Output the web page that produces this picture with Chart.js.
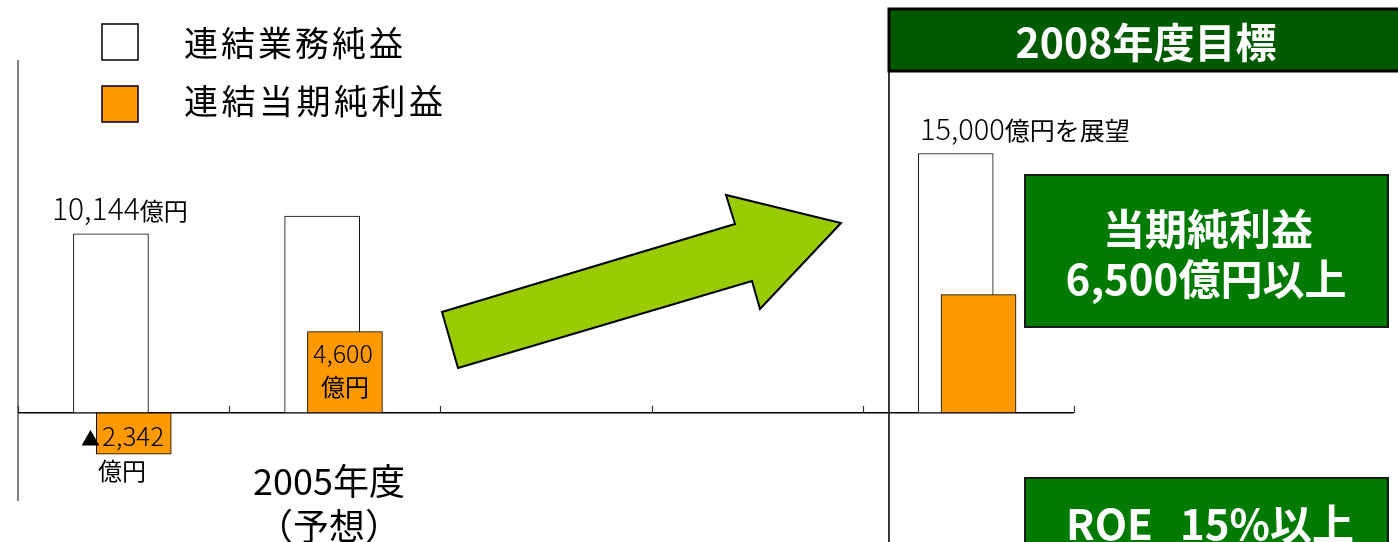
<!DOCTYPE html>
<html lang="ja">
<head>
<meta charset="utf-8">
<script src="https://cdn.jsdelivr.net/npm/chart.js@4"></script>
<style>
  html, body { margin: 0; padding: 0; background: #fff; }
  #wrap { position: relative; width: 1398px; height: 542px; overflow: hidden; }
  canvas { display: block; }
</style>
</head>
<body>
<div id="wrap"><canvas id="c" width="1398" height="542"></canvas></div>
<script>
// ---- data ----
const categories = ['2004年度', '2005年度（予想）', '2006年度', '2007年度', '2008年度目標'];
const seriesNames = ['連結業務純益', '連結当期純利益'];
const businessProfit = [10144, 11150, null, null, 14700];   // 連結業務純益 (億円)
const netIncome = [-2342, 4600, null, null, 6700];           // 連結当期純利益 (億円)
const valueLabels = ['10,144', '4,600', '▲', '2,342', '15,000'];
const unitLabels = ['億円', '億円を展望'];
const yTicks = [-5000, 0, 5000, 10000, 15000, 20000];
const targetTexts = ['2008年度目標', '当期純利益', '6,500億円以上', 'ROE', '15%以上'];
const periodLabel = ['2005年度', '（予想）'];

const CJK = '"Noto Sans CJK JP", "Noto Sans", sans-serif';
const NUM = '"Noto Sans CJK JP", "Noto Sans", sans-serif';

function toPoints(arr, shift) {
  const out = [];
  arr.forEach((v, i) => { if (v !== null) out.push({ x: i + shift, y: v }); });
  return out;
}

function txt(ctx, s, x, y, size, opts = {}) {
  ctx.save();
  ctx.font = (opts.weight || 'normal') + ' ' + size + 'px ' + (opts.family || CJK);
  ctx.fillStyle = opts.color || '#000';
  ctx.textBaseline = 'alphabetic';
  ctx.textAlign = opts.align || 'left';
  if (opts.spacing) ctx.letterSpacing = opts.spacing;
  ctx.fillText(s, x, y);
  const w = ctx.measureText(s).width;
  ctx.restore();
  return w;
}

const decor = {
  id: 'decor',
  beforeDatasetsDraw(chart) {
    const { ctx, scales: { x, y } } = chart;
    const y0 = y.getPixelForValue(0);
    ctx.save();
    // y axis
    ctx.strokeStyle = '#808080';
    ctx.lineWidth = 2;
    ctx.beginPath();
    ctx.moveTo(x.getPixelForValue(0), y.getPixelForValue(yTicks[yTicks.length - 1]));
    ctx.lineTo(x.getPixelForValue(0), y.getPixelForValue(yTicks[0]));
    ctx.stroke();
    // x axis
    ctx.strokeStyle = '#000';
    ctx.lineWidth = 1.5;
    ctx.beginPath();
    ctx.moveTo(x.getPixelForValue(0), y0);
    ctx.lineTo(x.getPixelForValue(categories.length), y0);
    ctx.stroke();
    ctx.strokeStyle = '#333';
    ctx.lineWidth = 1.2;
    for (let i = 0; i <= categories.length; i++) {
      const px = Math.round(x.getPixelForValue(i)) + 0.5;
      ctx.beginPath();
      ctx.moveTo(px, y0);
      ctx.lineTo(px, y0 - 7);
      ctx.stroke();
    }
    ctx.restore();
  },
  afterDraw(chart) {
    const { ctx } = chart;
    ctx.save();
    // legend
    ctx.lineWidth = 1.5;
    ctx.strokeStyle = '#000';
    ctx.fillStyle = '#fff';
    ctx.fillRect(102, 24, 36, 36); ctx.strokeRect(102, 24, 36, 36);
    ctx.fillStyle = '#FF9900';
    ctx.fillRect(102, 86, 36, 36); ctx.strokeRect(102, 86, 36, 36);
    txt(ctx, seriesNames[0], 184, 56, 34, { spacing: '3px' });
    txt(ctx, seriesNames[1], 184, 114, 34, { spacing: '3.5px' });

    // value labels
    let w = txt(ctx, valueLabels[0], 52, 220, 30, { family: NUM, weight: '300' });
    txt(ctx, unitLabels[0], 52 + w, 220, 24);
    txt(ctx, valueLabels[1], 313, 363, 25, { family: NUM, weight: '300' });
    txt(ctx, unitLabels[0], 345, 396, 24, { align: 'center' });
    txt(ctx, valueLabels[2], 81, 446, 19);
    txt(ctx, valueLabels[3], 102, 446, 26, { family: NUM, weight: '300' });
    txt(ctx, unitLabels[0], 98, 480, 24);
    w = txt(ctx, valueLabels[4], 920, 140, 29, { family: NUM, weight: '300' });
    txt(ctx, unitLabels[1], 920 + w, 140, 25);

    // period label
    txt(ctx, periodLabel[0], 329, 495, 36, { align: 'center' });
    txt(ctx, periodLabel[1], 329, 540, 36, { align: 'center' });

    // arrow
    ctx.beginPath();
    const pts = [[458, 368], [442, 312], [735, 224], [726, 195], [841, 223], [760, 309], [752, 281]];
    pts.forEach((p, i) => i ? ctx.lineTo(p[0], p[1]) : ctx.moveTo(p[0], p[1]));
    ctx.closePath();
    ctx.fillStyle = '#99CC00';
    ctx.fill();
    ctx.lineWidth = 2;
    ctx.strokeStyle = '#000';
    ctx.stroke();

    // right panel vertical line
    ctx.strokeStyle = '#222';
    ctx.lineWidth = 1.8;
    ctx.beginPath();
    ctx.moveTo(889, 8); ctx.lineTo(889, 542);
    ctx.stroke();

    // header
    ctx.fillStyle = '#005A00';
    ctx.fillRect(889, 9, 520, 62);
    ctx.lineWidth = 3;
    ctx.strokeStyle = '#000';
    ctx.strokeRect(889, 9, 520, 62);
    txt(ctx, targetTexts[0], 1146, 58, 41, { align: 'center', color: '#fff', weight: 'bold' });

    // target boxes
    ctx.fillStyle = '#007A00';
    ctx.lineWidth = 2;
    ctx.strokeStyle = '#1a1a1a';
    ctx.fillRect(1025, 175, 363, 152); ctx.strokeRect(1025, 175, 363, 152);
    ctx.fillRect(1025, 478, 363, 80); ctx.strokeRect(1025, 478, 363, 80);
    txt(ctx, targetTexts[1], 1208, 245, 42, { align: 'center', color: '#fff', weight: 'bold' });
    txt(ctx, targetTexts[2], 1206, 295, 42, { align: 'center', color: '#fff', weight: 'bold' });
    txt(ctx, targetTexts[3], 1066, 540, 42, { color: '#fff', weight: 'bold' });
    txt(ctx, targetTexts[4], 1180, 540, 42, { color: '#fff', weight: 'bold' });
    ctx.restore();
  }
};

new Chart(document.getElementById('c'), {
  type: 'bar',
  data: {
    datasets: [
      {
        label: seriesNames[0],
        data: toPoints(businessProfit, 0.44),
        backgroundColor: '#FFFFFF',
        borderColor: '#000000',
        borderWidth: 1,
        borderSkipped: false,
        order: 2
      },
      {
        label: seriesNames[1],
        data: toPoints(netIncome, 0.548),
        backgroundColor: '#FF9900',
        borderColor: '#000000',
        borderWidth: 1,
        borderSkipped: false,
        order: 1
      }
    ]
  },
  options: {
    responsive: false,
    animation: false,
    grouped: false,
    barThickness: 75,
    layout: { padding: { left: 18, top: 60, right: 324, bottom: 41 } },
    plugins: { legend: { display: false }, tooltip: { enabled: false } },
    scales: {
      x: { type: 'linear', min: 0, max: categories.length, offset: false, display: false },
      y: { min: yTicks[0], max: yTicks[yTicks.length - 1], display: false }
    }
  },
  plugins: [decor]
});
</script>
</body>
</html>
